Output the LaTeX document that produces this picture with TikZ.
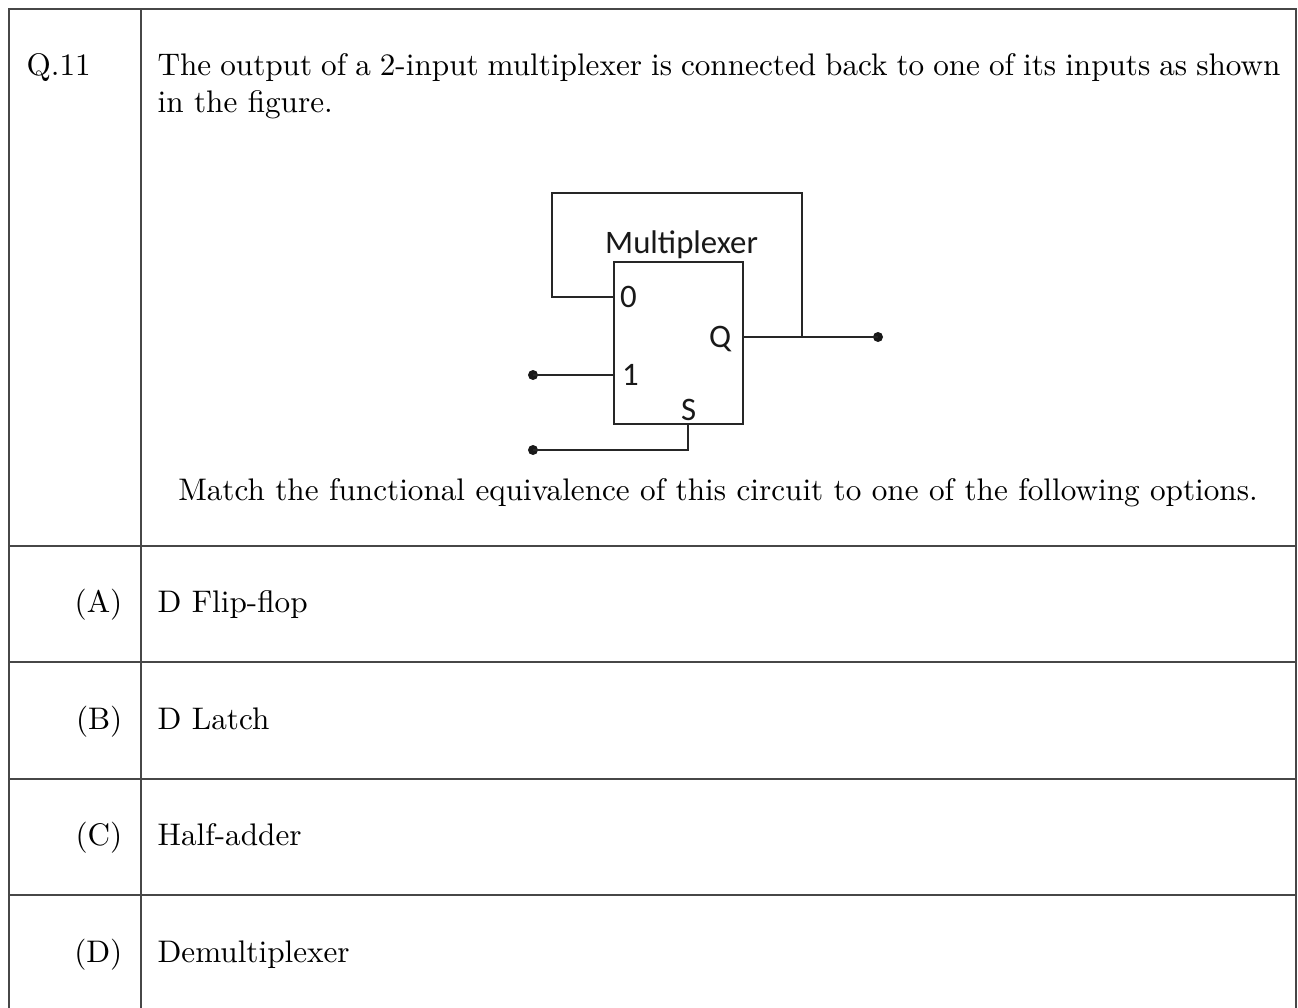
\documentclass[tikz,border=0pt]{standalone}
\usepackage{fontspec}
\newfontfamily\calib{Carlito}
\begin{document}
\begin{tikzpicture}[x=1pt,y=-1pt,
  tbl/.style={line width=2pt,draw=black!72},
  wire/.style={line width=1.6pt,draw=black!85},
  txt/.style={inner sep=0pt,font=\fontsize{10}{12}\selectfont,scale=3.12,text=black},
  lab/.style={inner sep=0pt,font=\calib\fontsize{32.8}{36}\selectfont,text=black!90},
  dot/.style={circle,fill=black!90,inner sep=0pt,minimum size=10pt},
  muxbox/.style={draw=black!85,line width=1.6pt,inner sep=0pt,minimum width=129pt,minimum height=162pt,anchor=north west}]
\useasboundingbox (0,0) rectangle (1298,1008);
% table
\draw[tbl] (9,1008) -- (9,9) -- (1296,9) -- (1296,1008);
\draw[tbl] (141,9) -- (141,1008);
\foreach \yy in {546,662,779,895} \draw[tbl] (9,\yy) -- (1296,\yy);
% texts
\node[txt,anchor=base west] (qn) at (26,76) {Q.11};
\node[txt,anchor=base west] (l1) at (157,76) {\hbox to 359.9pt{The output of a 2-input multiplexer is connected back to one of its inputs as shown}};
\node[txt,anchor=base west] (l2) at (157,113) {in the figure.};
\node[txt,anchor=base] (l3) at (718,500) {Match the functional equivalence of this circuit to one of the following options.};
\node[txt,anchor=base east] (oA) at (123,612) {(A)};
\node[txt,anchor=base west] (tA) at (157,612) {D Flip-flop};
\node[txt,anchor=base east] (oB) at (123,729) {(B)};
\node[txt,anchor=base west] (tB) at (157,729) {D Latch};
\node[txt,anchor=base east] (oC) at (123,845) {(C)};
\node[txt,anchor=base west] (tC) at (157,845) {Half-adder};
\node[txt,anchor=base east] (oD) at (123,962) {(D)};
\node[txt,anchor=base west] (tD) at (157,962) {Demultiplexer};
% circuit
\node[muxbox] (mux) at (613,261) {};
\node[lab,anchor=base west] (mlab) at (605,254) {Multiplexer};
\node[lab,anchor=base west] (i0) at (620,308) {0};
\node[lab,anchor=base west] (i1) at (622,385) {1};
\node[lab,anchor=base west] (oq) at (709,347) {Q};
\node[lab,anchor=base west] (is) at (681,420) {S};
\coordinate (p0) at (613,297);
\coordinate (p1) at (613,375);
\coordinate (pq) at (742,337);
\coordinate (ps) at (688,423);
\coordinate (lA) at (552,297);
\coordinate (lB) at (552,193);
\coordinate (lC) at (802,193);
\coordinate (lD) at (802,337);
\node[dot] (d1) at (533,375) {};
\node[dot] (ds) at (533,450) {};
\node[dot] (dq) at (878,337) {};
\draw[wire] (p0) -- (lA) -- (lB) -- (lC) -- (lD);
\draw[wire] (pq) -- (dq.center);
\draw[wire] (d1.center) -- (p1);
\draw[wire] (ps) |- (ds.center);
\end{tikzpicture}
\end{document}
